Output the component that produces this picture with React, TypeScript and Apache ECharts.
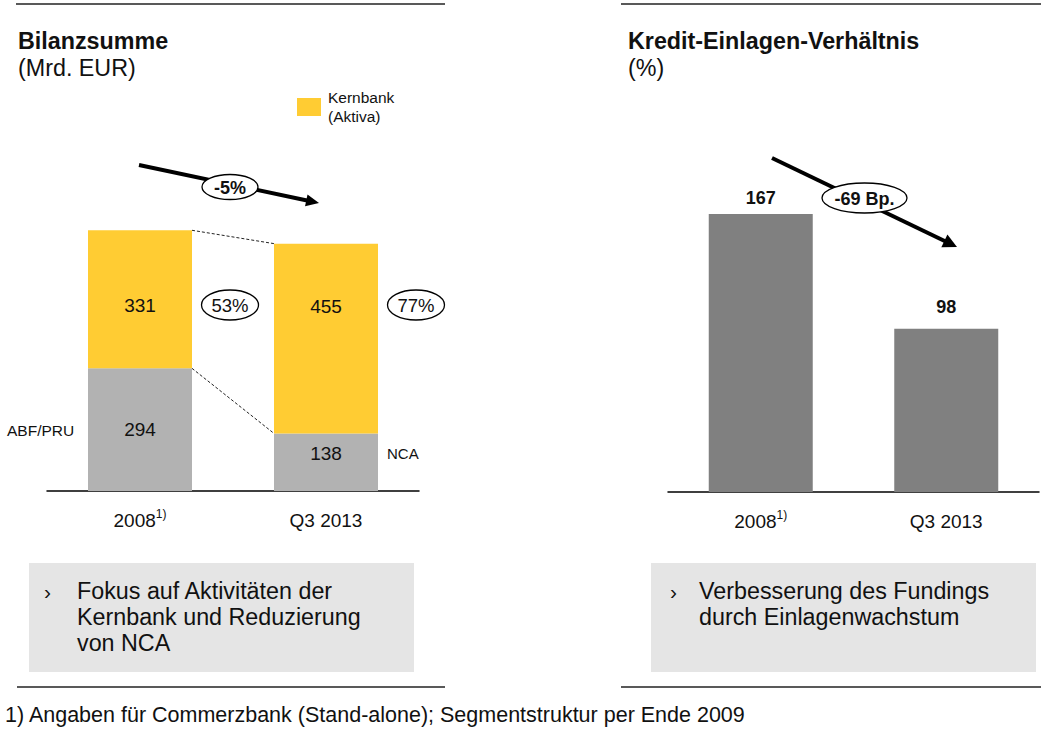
import React, { useEffect, useRef } from "react";
import * as echarts from "echarts";

const categories = ["2008", "Q3 2013"];
const abfNca = [294, 138];
const kernbank = [331, 455];
const totals = [625, 593];
const kernbankShare = ["53%", "77%"];
const ratio = [167, 98];
const sideLabels = ["ABF/PRU", "NCA"];

const FONT = "Liberation Sans, Arial, Helvetica, sans-serif";
const YELLOW = "#FFCC33";
const GRAY_L = "#B2B2B2";
const GRAY_R = "#808080";
const INK = "#111111";
const BAR_W = 104;

export default function App() {
  const ref = useRef<HTMLDivElement>(null);

  useEffect(() => {
    if (!ref.current) return;
    const chart = echarts.init(ref.current, null, { renderer: "svg" });

    const axisLabel = {
      fontSize: 19,
      color: INK,
      lineHeight: 24,
      margin: 17,
      formatter: (v: string) => (v === "2008" ? "2008{sup|1)}" : v),
      rich: { sup: { fontSize: 12, verticalAlign: "top", lineHeight: 24 } },
    };

    const segOffsets = [
      [0, 6],
      [0, -32],
    ];
    const grayOffsets = [
      [0, 0],
      [0, -9],
    ];
    const totalDist = [4, 7];
    const ratioDist = [7, 13];

    const option: any = {
      animation: false,
      textStyle: { fontFamily: FONT },
      legend: {
        data: ["Kernbank"],
        left: 297,
        top: 88,
        padding: 0,
        itemWidth: 24,
        itemHeight: 18,
        icon: "rect",
        selectedMode: false,
        formatter: () => "Kernbank\n(Aktiva)",
        textStyle: { fontSize: 15.5, lineHeight: 19, color: INK, padding: [0, 0, 0, 2] },
      },
      grid: [
        { left: 47, width: 372, top: 199, height: 292 },
        { left: 668, width: 371, top: 159, height: 333 },
      ],
      xAxis: [
        {
          type: "category",
          gridIndex: 0,
          data: categories,
          axisLine: { lineStyle: { color: "#000", width: 1.5 } },
          axisTick: { show: false },
          axisLabel,
        },
        {
          type: "category",
          gridIndex: 1,
          data: categories,
          axisLine: { lineStyle: { color: "#000", width: 1.5 } },
          axisTick: { show: false },
          axisLabel,
        },
      ],
      yAxis: [
        { type: "value", gridIndex: 0, min: 0, max: 700, show: false, splitLine: { show: false } },
        { type: "value", gridIndex: 1, min: 0, max: 200, show: false, splitLine: { show: false } },
      ],
      series: [
        {
          name: "ABF/PRU / NCA",
          type: "bar",
          stack: "a",
          xAxisIndex: 0,
          yAxisIndex: 0,
          barWidth: BAR_W,
          silent: true,
          itemStyle: { color: GRAY_L },
          data: abfNca.map((v, i) => ({
            value: v,
            label: { offset: grayOffsets[i] },
          })),
          label: { show: true, position: "inside", fontSize: 19, color: INK },
        },
        {
          name: "Kernbank",
          type: "bar",
          stack: "a",
          xAxisIndex: 0,
          yAxisIndex: 0,
          barWidth: BAR_W,
          silent: true,
          itemStyle: { color: YELLOW },
          data: kernbank.map((v, i) => ({
            value: v,
            label: { offset: segOffsets[i] },
          })),
          label: { show: true, position: "inside", fontSize: 19, color: INK },
        },
        {
          name: "Summe",
          type: "scatter",
          xAxisIndex: 0,
          yAxisIndex: 0,
          symbolSize: 1,
          silent: true,
          itemStyle: { opacity: 0 },
          data: totals.map((v, i) => ({ value: v, label: { distance: totalDist[i] } })),
          label: {
            show: true,
            position: "top",
            fontSize: 18,
            fontWeight: "bold",
            color: INK,
          },
        },
        {
          name: "Kredit-Einlagen-Verhältnis",
          type: "bar",
          xAxisIndex: 1,
          yAxisIndex: 1,
          barWidth: BAR_W,
          silent: true,
          itemStyle: { color: GRAY_R },
          data: ratio.map((v, i) => ({ value: v, label: { distance: ratioDist[i] } })),
          label: {
            show: true,
            position: "top",
            fontSize: 18,
            fontWeight: "bold",
            color: INK,
          },
        },
      ],
    };

    chart.setOption(option);

    const px = (g: number, x: number, y: number) =>
      chart.convertToPixel({ gridIndex: g } as any, [x, y]) as number[];
    const half = BAR_W / 2;

    const t0 = px(0, 0, totals[0]);
    const t1 = px(0, 1, totals[1]);
    const g0 = px(0, 0, abfNca[0]);
    const g1 = px(0, 1, abfNca[1]);

    const hline = (x1: number, x2: number, y: number) => ({
      type: "line",
      shape: { x1, y1: y, x2, y2: y },
      style: { stroke: "#222", lineWidth: 1.5 },
    });

    const txt = (x: number, y: number, text: string, size: number, extra: any = {}) => ({
      type: "text",
      x,
      y,
      style: {
        text,
        fontSize: size,
        fontFamily: FONT,
        fill: INK,
        textVerticalAlign: "middle",
        ...extra,
      },
    });

    const arrow = (x1: number, y1: number, x2: number, y2: number, len: number, hw: number) => {
      const dx = x2 - x1;
      const dy = y2 - y1;
      const L = Math.sqrt(dx * dx + dy * dy);
      const ux = dx / L;
      const uy = dy / L;
      const bx = x2 - ux * len;
      const by = y2 - uy * len;
      return [
        {
          type: "line",
          shape: { x1, y1, x2: bx + ux * 2, y2: by + uy * 2 },
          style: { stroke: "#000", lineWidth: 4 },
        },
        {
          type: "polygon",
          shape: {
            points: [
              [x2, y2],
              [bx - uy * hw, by + ux * hw],
              [bx + uy * hw, by - ux * hw],
            ],
          },
          style: { fill: "#000" },
        },
      ];
    };

    const ellipseLabel = (cx: number, cy: number, rx: number, ry: number, text: string, size: number, bold: boolean) => [
      {
        type: "ellipse",
        shape: { cx, cy, rx, ry },
        style: { fill: "#fff", stroke: "#000", lineWidth: 1.3 },
      },
      txt(cx, cy + 0.5, text, size, { textAlign: "center", fontWeight: bold ? "bold" : "normal" }),
    ];

    const c0 = px(0, 0, 0);
    const c1 = px(0, 1, 0);

    const graphic: any[] = [
      // frame lines
      hline(16, 445, 4),
      hline(621, 1041, 4),
      hline(17, 445, 687),
      hline(621, 1041, 687),
      // titles
      txt(18, 41, "Bilanzsumme", 23.3, { fontWeight: "bold" }),
      txt(18, 68, "(Mrd. EUR)", 23.3),
      txt(628, 41, "Kredit-Einlagen-Verhältnis", 23.3, { fontWeight: "bold" }),
      txt(628, 68, "(%)", 23.3),
      // dashed connectors
      {
        type: "line",
        shape: { x1: t0[0] + half, y1: t0[1], x2: t1[0] - half, y2: t1[1] },
        style: { stroke: "#222", lineWidth: 1, lineDash: [3, 2] },
      },
      {
        type: "line",
        shape: { x1: g0[0] + half, y1: g0[1], x2: g1[0] - half, y2: g1[1] },
        style: { stroke: "#222", lineWidth: 1, lineDash: [3, 2] },
      },
      // side labels
      txt(7, 430, sideLabels[0], 15.5),
      txt(387, 453, sideLabels[1], 15),
      // arrows
      ...arrow(139, 165, 319, 203, 13, 6),
      ...ellipseLabel(230, 187, 28, 12.5, "-5%", 18, true),
      ...arrow(772, 158, 957, 247, 14, 7),
      ...ellipseLabel(864.5, 198, 42.5, 15, "-69 Bp.", 18, true),
      // share ellipses
      ...ellipseLabel(c0[0] + 90, 305, 28.5, 15, kernbankShare[0], 18.5, false),
      ...ellipseLabel(c1[0] + 90, 305, 28.5, 15, kernbankShare[1], 18.5, false),
      // boxes
      {
        type: "rect",
        shape: { x: 29, y: 563, width: 385, height: 109 },
        style: { fill: "#E5E5E5" },
      },
      {
        type: "rect",
        shape: { x: 651, y: 563, width: 385, height: 109 },
        style: { fill: "#E5E5E5" },
      },
      txt(44, 591, "\u203A", 21),
      {
        type: "text",
        x: 77,
        y: 578,
        style: {
          text: "Fokus auf Aktivitäten der\nKernbank und Reduzierung\nvon NCA",
          fontSize: 23.3,
          lineHeight: 26,
          fontFamily: FONT,
          fill: INK,
          textVerticalAlign: "top",
        },
      },
      txt(670, 591, "\u203A", 21),
      {
        type: "text",
        x: 699,
        y: 578,
        style: {
          text: "Verbesserung des Fundings\ndurch Einlagenwachstum",
          fontSize: 23.3,
          lineHeight: 26,
          fontFamily: FONT,
          fill: INK,
          textVerticalAlign: "top",
        },
      },
      // footnote
      txt(5, 715, "1) Angaben für Commerzbank (Stand-alone); Segmentstruktur per Ende 2009", 21.5),
    ];

    chart.setOption({ graphic });

    return () => chart.dispose();
  }, []);

  return (
    <div
      ref={ref}
      style={{ position: "fixed", left: 0, top: 0, width: 1049, height: 736, background: "#fff" }}
    />
  );
}
